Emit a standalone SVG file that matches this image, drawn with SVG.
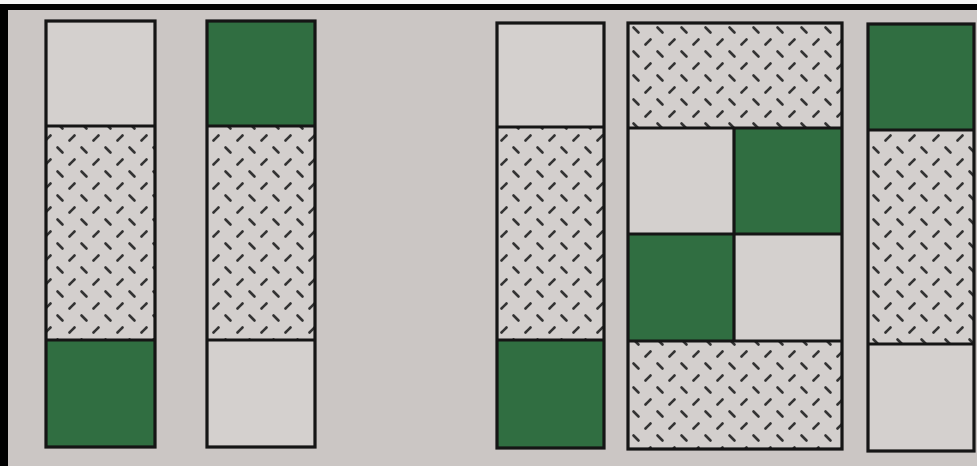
<svg xmlns="http://www.w3.org/2000/svg" width="977" height="466" viewBox="0 0 977 466">
<defs>
<pattern id="hatch" patternUnits="userSpaceOnUse" width="24" height="24">
<rect width="24" height="24" fill="#d3cfcd"/>
<g stroke="#333" stroke-width="2.6" stroke-linecap="round">
<line x1="9.5" y1="3.5" x2="14.5" y2="8.5"/>
<line x1="-2.5" y1="20.5" x2="2.5" y2="15.5"/>
<line x1="21.5" y1="20.5" x2="26.5" y2="15.5"/>
</g>
</pattern>
</defs>
<style>
.light{fill:#d4d0ce}
.green{fill:#306e41}
.hatch{fill:url(#hatch)}
.edge{fill:none;stroke:#151515;stroke-width:3.2}
</style>
<rect x="0" y="0" width="977" height="466" fill="#cbc6c4"/>
<rect x="0" y="0" width="977" height="4" fill="#f4f4f4"/>
<rect x="0" y="4" width="977" height="6" fill="#000"/>
<rect x="0" y="4" width="8" height="462" fill="#000"/>

<g id="strip1">
<rect class="light" x="46" y="21" width="109" height="105"/>
<rect class="hatch" x="46" y="126" width="109" height="214"/>
<rect class="green" x="46" y="340" width="109" height="107"/>
<rect class="edge" x="46" y="21" width="109" height="426"/>
<line class="edge" x1="46" y1="126" x2="155" y2="126"/>
<line class="edge" x1="46" y1="340" x2="155" y2="340"/>
</g>

<g id="strip2">
<rect class="green" x="207" y="21" width="108" height="105"/>
<rect class="hatch" x="207" y="126" width="108" height="214"/>
<rect class="light" x="207" y="340" width="108" height="107"/>
<rect class="edge" x="207" y="21" width="108" height="426"/>
<line class="edge" x1="207" y1="126" x2="315" y2="126"/>
<line class="edge" x1="207" y1="340" x2="315" y2="340"/>
</g>

<g id="strip3">
<rect class="light" x="497" y="23" width="107" height="104"/>
<rect class="hatch" x="497" y="127" width="107" height="213"/>
<rect class="green" x="497" y="340" width="107" height="108"/>
<rect class="edge" x="497" y="23" width="107" height="425"/>
<line class="edge" x1="497" y1="127" x2="604" y2="127"/>
<line class="edge" x1="497" y1="340" x2="604" y2="340"/>
</g>

<g id="block">
<rect class="hatch" x="628" y="23" width="214" height="105"/>
<rect class="light" x="628" y="128" width="106" height="106"/>
<rect class="green" x="734" y="128" width="108" height="106"/>
<rect class="green" x="628" y="234" width="106" height="107"/>
<rect class="light" x="734" y="234" width="108" height="107"/>
<rect class="hatch" x="628" y="341" width="214" height="108"/>
<rect class="edge" x="628" y="23" width="214" height="426"/>
<line class="edge" x1="628" y1="128" x2="842" y2="128"/>
<line class="edge" x1="628" y1="234" x2="842" y2="234"/>
<line class="edge" x1="628" y1="341" x2="842" y2="341"/>
<line class="edge" x1="734" y1="128" x2="734" y2="341"/>
</g>

<g id="strip4">
<rect class="green" x="868" y="24" width="106" height="106"/>
<rect class="hatch" x="868" y="130" width="106" height="214"/>
<rect class="light" x="868" y="344" width="106" height="107"/>
<rect class="edge" x="868" y="24" width="106" height="427"/>
<line class="edge" x1="868" y1="130" x2="974" y2="130"/>
<line class="edge" x1="868" y1="344" x2="974" y2="344"/>
</g>
</svg>
